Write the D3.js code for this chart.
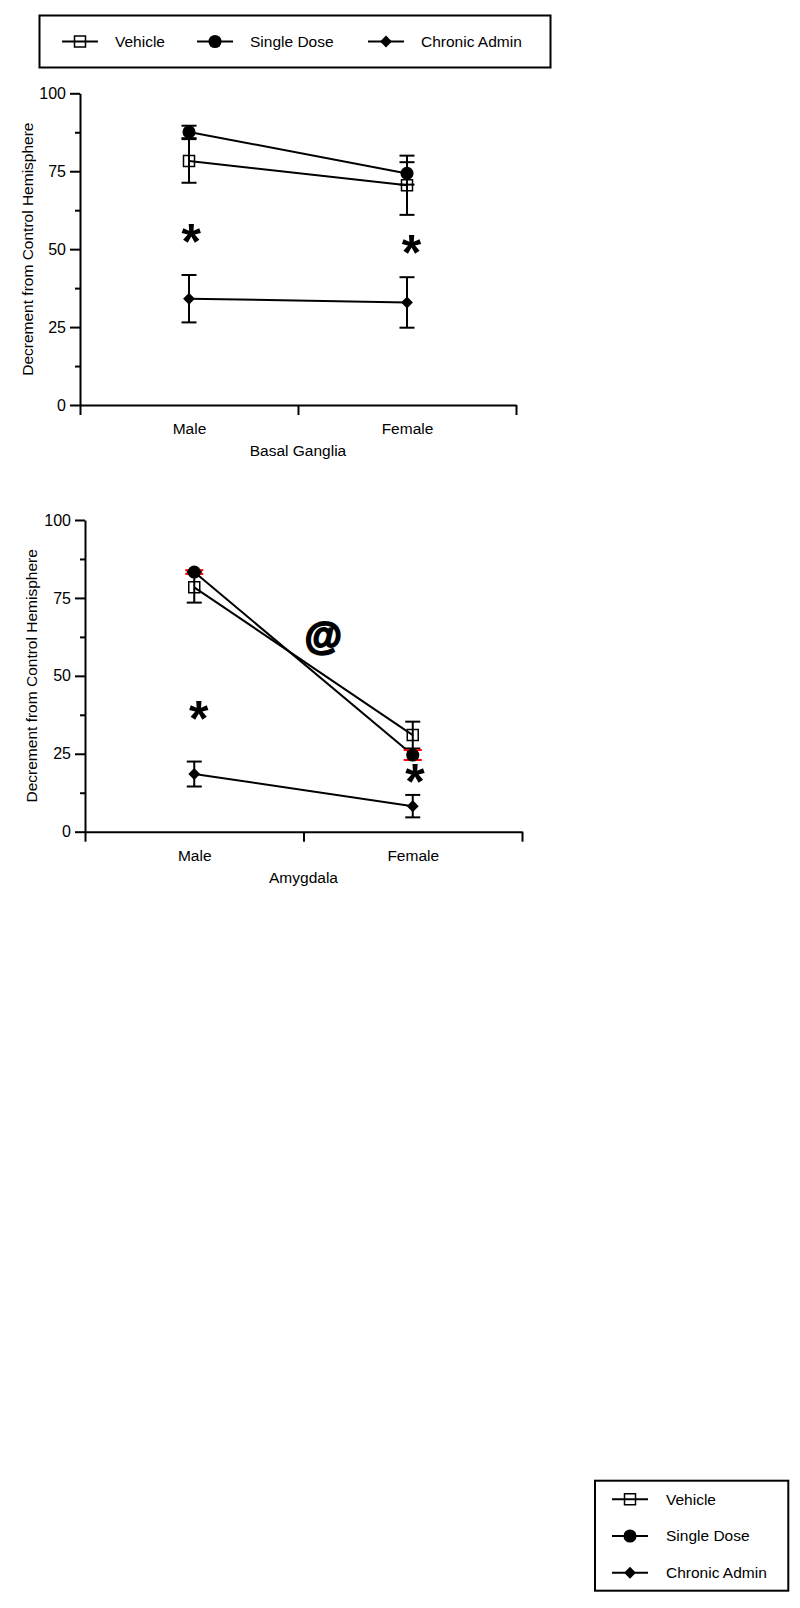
<!DOCTYPE html>
<html>
<head>
<meta charset="utf-8">
<script src="https://d3js.org/d3.v7.min.js"></script>
<style>
  body { margin: 0; background: #fff; }
  svg { display: block; }
  text { font-family: "Liberation Sans", Arial, sans-serif; fill: #000; }
  .axis path, .axis line { stroke: #000; stroke-width: 2px; }
  .axis text { font-size: 16px; font-family: "Liberation Sans", Arial, sans-serif; }
</style>
</head>
<body>
<div id="chart"></div>
<script>
  // data
  const categories = ["Male", "Female"];
  const seriesNames = ["Vehicle", "Single Dose", "Chronic Admin"];
  const yTicks = [0, 25, 50, 75, 100];
  const yMinorTicks = [12.5, 37.5, 62.5, 87.5];

  // means / SEM, one row per series (Vehicle, Single Dose, Chronic Admin)
  const basalMeans = [[78.3, 70.5], [87.6, 74.3], [34.1, 32.9]];
  const basalErrs  = [[7.0, 9.5],  [2.0, 3.6],  [7.6, 8.1]];
  const amygMeans  = [[78.4, 31.0], [83.3, 24.6], [18.5, 8.2]];
  const amygErrs   = [[4.9, 4.3],  [0.6, 1.6],  [4.0, 3.6]];

  // significance marks: [x in category units (0..2), value, label]
  const basalMarks = [[0.51, 55.6, "*"], [1.52, 52.2, "*"]];
  const amygMarks  = [[0.52, 39.6, "*"], [1.51, 19.2, "*"], [1.09, 61.8, "@"]];

  const w = 800, h = 1608;

  const svg = d3.select("#chart").append("svg")
      .attr("width", w)
      .attr("height", h);

  svg.append("rect").attr("width", w).attr("height", h).attr("fill", "#fff");

  const symSquare = d3.symbol().type(d3.symbolSquare).size(121);
  const symCircle = d3.symbol().type(d3.symbolCircle).size(135);
  const symDiamond = d3.symbol().type(d3.symbolDiamond).size(42);

  function marker(g, i, x, y) {
    if (i == 0) {
      g.append("path").attr("d", symSquare()).attr("transform", "translate(" + x + "," + y + ")")
        .attr("fill", "none").attr("stroke", "#000").attr("stroke-width", 1.5);
    } else if (i == 1) {
      g.append("path").attr("d", symCircle()).attr("transform", "translate(" + x + "," + y + ")")
        .attr("fill", "#000");
    } else {
      g.append("path").attr("d", symDiamond()).attr("transform", "translate(" + x + "," + y + ") scale(1.7,1)")
        .attr("fill", "#000");
    }
  }

  function drawPanel(p) {
    const g = svg.append("g");

    const x = d3.scaleLinear().domain([0, 2]).range([p.left, p.right]);
    const y = d3.scaleLinear().domain([0, 100]).range([p.bottom, p.top]);
    const cx = (i) => x(i + 0.5);

    // y axis
    g.append("g").attr("class", "axis")
      .attr("transform", "translate(" + p.left + ",0)")
      .call(d3.axisLeft(y).tickValues(yTicks).tickSize(10).tickSizeOuter(0).tickPadding(4));
    g.append("g").attr("class", "axis")
      .attr("transform", "translate(" + p.left + ",0)")
      .call(d3.axisLeft(y).tickValues(yMinorTicks).tickSize(5).tickSizeOuter(0).tickFormat(""))
      .select(".domain").remove();

    // x axis: ticks on band edges, labels at band centres
    g.append("g").attr("class", "axis")
      .attr("transform", "translate(0," + p.bottom + ")")
      .call(d3.axisBottom(x).tickValues([0, 1, 2]).tickSize(10).tickSizeOuter(0).tickFormat(""));
    g.append("g").attr("class", "axis xcat")
      .attr("transform", "translate(0," + p.bottom + ")")
      .call(d3.axisBottom(x).tickValues([0.5, 1.5]).tickSize(0).tickPadding(18)
        .tickFormat((d) => categories[Math.floor(d)]))
      .select(".domain").remove();
    g.selectAll(".xcat text").style("font-size", "15.5px");

    // axis titles
    g.append("text")
      .attr("x", (p.left + p.right) / 2)
      .attr("y", p.bottom + 51)
      .style("text-anchor", "middle")
      .style("font-size", "15.5px")
      .text(p.title);

    g.append("text")
      .attr("transform", "translate(" + p.labelX + "," + ((p.top + p.bottom) / 2) + ") rotate(-90)")
      .style("text-anchor", "middle")
      .style("font-size", "15.5px")
      .text("Decrement from Control Hemisphere");

    // connecting lines
    const line = d3.line().x((d, i) => cx(i)).y((d) => y(d));
    p.means.forEach(function(m) {
      g.append("path").datum(m)
        .attr("fill", "none").attr("stroke", "#000").attr("stroke-width", 2)
        .attr("d", line);
    });

    // error bars
    p.means.forEach(function(m, s) {
      m.forEach(function(v, i) {
        const e = p.errs[s][i];
        const col = (p.redSeries === s) ? "#ff0000" : "#000";
        const hw = (p.redSeries === s) ? 9 : 7.5;
        g.append("line")
          .attr("x1", cx(i)).attr("x2", cx(i))
          .attr("y1", y(v - e)).attr("y2", y(v + e))
          .attr("stroke", col).attr("stroke-width", 2);
        [v - e, v + e].forEach(function(c) {
          g.append("line")
            .attr("x1", cx(i) - hw).attr("x2", cx(i) + hw)
            .attr("y1", y(c)).attr("y2", y(c))
            .attr("stroke", col).attr("stroke-width", 2);
        });
      });
    });

    // markers
    p.means.forEach(function(m, s) {
      m.forEach(function(v, i) { marker(g, s, cx(i), y(v)); });
    });

    // significance marks
    p.marks.forEach(function(d) {
      const isAt = d[2] == "@";
      const fs = isAt ? 38 : 50;
      g.append("text")
        .attr("x", x(d[0]))
        .attr("y", y(d[1]) + (isAt ? 0.25 : 0.55) * fs)
        .style("text-anchor", "middle")
        .style("font-weight", "bold")
        .style("font-size", fs + "px")
        .style("stroke", "#000")
        .style("stroke-width", isAt ? 2 : 0)
        .text(d[2]);
    });
  }

  drawPanel({ left: 80, right: 516, top: 93.3, bottom: 405, labelX: 33,
              title: "Basal Ganglia", means: basalMeans, errs: basalErrs, marks: basalMarks, redSeries: -1 });
  drawPanel({ left: 85, right: 522, top: 520, bottom: 831.7, labelX: 37,
              title: "Amygdala", means: amygMeans, errs: amygErrs, marks: amygMarks, redSeries: 1 });

  // legends
  function legendItem(g, i, sx, ty, tx) {
    g.append("line")
      .attr("x1", sx - 18).attr("x2", sx + 18)
      .attr("y1", ty).attr("y2", ty)
      .attr("stroke", "#000").attr("stroke-width", 2);
    marker(g, i, sx, ty);
    g.append("text")
      .attr("x", tx).attr("y", ty)
      .attr("dy", "0.35em")
      .style("font-size", "15.5px")
      .text(seriesNames[i]);
  }

  // top legend, one row
  const topLeg = svg.append("g");
  topLeg.append("rect")
    .attr("x", 39.5).attr("y", 15.5).attr("width", 511).attr("height", 52)
    .attr("fill", "none").attr("stroke", "#000").attr("stroke-width", 2);
  const topSym = [80, 215, 386];
  const topTxt = [115, 250, 421];
  seriesNames.forEach(function(n, i) { legendItem(topLeg, i, topSym[i], 41.5, topTxt[i]); });

  // bottom legend, one column
  const botLeg = svg.append("g");
  botLeg.append("rect")
    .attr("x", 595).attr("y", 1480.7).attr("width", 193.3).attr("height", 110)
    .attr("fill", "none").attr("stroke", "#000").attr("stroke-width", 2);
  seriesNames.forEach(function(n, i) { legendItem(botLeg, i, 630, 1499.3 + i * 36.7, 666); });
</script>
</body>
</html>
